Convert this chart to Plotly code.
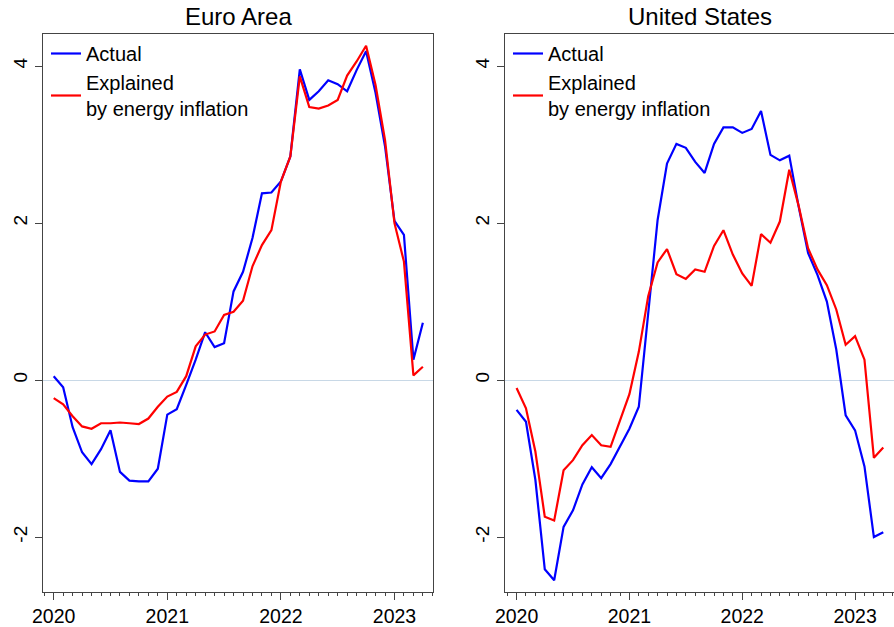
import plotly.graph_objects as go

# monthly index, 0 = Jan 2020 ... 39 = Apr 2023
months = list(range(40))
year_ticks = [0, 12, 24, 36]
year_labels = ["2020", "2021", "2022", "2023"]
y_ticks = [-2, 0, 2, 4]
y_labels = ["-2", "0", "2", "4"]

ea_actual = [
    0.05, -0.09, -0.60, -0.92, -1.07, -0.88, -0.64, -1.17, -1.28, -1.29,
    -1.29, -1.13, -0.44, -0.37, -0.06, 0.26, 0.61, 0.42, 0.47, 1.13,
    1.38, 1.81, 2.38, 2.39, 2.53, 2.85, 3.96, 3.57, 3.68, 3.82,
    3.77, 3.68, 3.95, 4.19, 3.66, 2.98, 2.03, 1.85, 0.26, 0.73,
]
ea_explained = [
    -0.23, -0.31, -0.46, -0.59, -0.62, -0.55, -0.55, -0.54, -0.55, -0.56,
    -0.49, -0.34, -0.21, -0.15, 0.05, 0.43, 0.58, 0.62, 0.83, 0.87,
    1.01, 1.45, 1.72, 1.91, 2.53, 2.85, 3.87, 3.48, 3.46, 3.50,
    3.57, 3.88, 4.06, 4.26, 3.76, 3.06, 2.00, 1.51, 0.06, 0.17,
]
us_actual = [
    -0.38, -0.53, -1.27, -2.41, -2.55, -1.87, -1.66, -1.33, -1.11, -1.25,
    -1.07, -0.85, -0.62, -0.34, 0.90, 2.04, 2.76, 3.01, 2.96, 2.78,
    2.64, 3.01, 3.22, 3.22, 3.15, 3.20, 3.43, 2.87, 2.80, 2.86,
    2.21, 1.62, 1.34, 1.00, 0.39, -0.45, -0.64, -1.10, -2.00, -1.94,
]
us_explained = [
    -0.10, -0.36, -0.91, -1.74, -1.79, -1.15, -1.02, -0.83, -0.70, -0.83,
    -0.85, -0.51, -0.18, 0.36, 1.07, 1.50, 1.67, 1.35, 1.29, 1.41,
    1.38, 1.71, 1.91, 1.60, 1.36, 1.20, 1.86, 1.75, 2.02, 2.68,
    2.22, 1.68, 1.41, 1.21, 0.90, 0.45, 0.56, 0.26, -0.99, -0.86,
]

W, H = 894, 627
FONT = "Liberation Sans, Arial, sans-serif"
AXIS_COLOR = "#444444"

panels = [
    ("Euro Area", ea_actual, ea_explained, (43, 433), [-1.13, 40.07]),
    ("United States", us_actual, us_explained, (505, 894), [-1.23, 40.14]),
]

fig = go.Figure()

for k, (title, actual, explained, (x0, x1), xrange) in enumerate(panels, start=1):
    sfx = "" if k == 1 else str(k)
    leg = "legend" if k == 1 else "legend2"
    fig.add_trace(go.Scatter(
        x=months, y=actual, mode="lines", name="Actual",
        line=dict(color="#0000ff", width=2.2),
        xaxis="x" + sfx, yaxis="y" + sfx, legend=leg,
    ))
    fig.add_trace(go.Scatter(
        x=months, y=explained, mode="lines",
        name="Explained<br>by energy inflation",
        line=dict(color="#ff0000", width=2.2),
        xaxis="x" + sfx, yaxis="y" + sfx, legend=leg,
    ))

    fig.update_layout(**{
        "xaxis" + sfx: dict(
            domain=[x0 / W, x1 / W], range=xrange, anchor="y" + sfx,
            tickvals=year_ticks, ticktext=year_labels,
            ticks="outside", ticklen=7, tickcolor=AXIS_COLOR,
            minor=dict(ticks="outside", ticklen=3, dtick=1, tick0=0,
                       tickcolor=AXIS_COLOR),
            showline=True, linecolor=AXIS_COLOR, mirror=True,
            showgrid=False, zeroline=False, automargin=False,
            tickfont=dict(size=19.5, color="black"),
        ),
        "yaxis" + sfx: dict(
            domain=[0, 1], range=[-2.70, 4.41], anchor="x" + sfx,
            tickvals=y_ticks, ticktext=y_labels, tickangle=-90,
            ticks="outside", ticklen=7, tickcolor=AXIS_COLOR,
            showline=True, linecolor=AXIS_COLOR, mirror=True,
            showgrid=False, zeroline=True, zerolinecolor="#c8d8e6",
            zerolinewidth=1, automargin=False,
            tickfont=dict(size=19, color="black"),
        ),
        leg: dict(
            x=(x0 + 3) / W, y=1.0, xanchor="left", yanchor="top",
            bgcolor="rgba(0,0,0,0)", font=dict(size=20, color="black"),
            itemwidth=30,
        ),
    })
    fig.add_annotation(
        text=title, x=(x0 + x1) / 2 / W, y=1, xref="paper", yref="paper",
        xanchor="center", yanchor="bottom", yshift=2, showarrow=False,
        font=dict(size=24, color="black"),
    )

fig.update_layout(
    width=W, height=H,
    margin=dict(l=0, r=0, t=34, b=35, autoexpand=False),
    paper_bgcolor="white", plot_bgcolor="white",
    font=dict(family=FONT, color="black"),
)

# drop the default 8px body margin so the figure fills the window
fig.write_html("out.html", config={"displayModeBar": False},
               post_script="document.body.style.margin = '0';")
